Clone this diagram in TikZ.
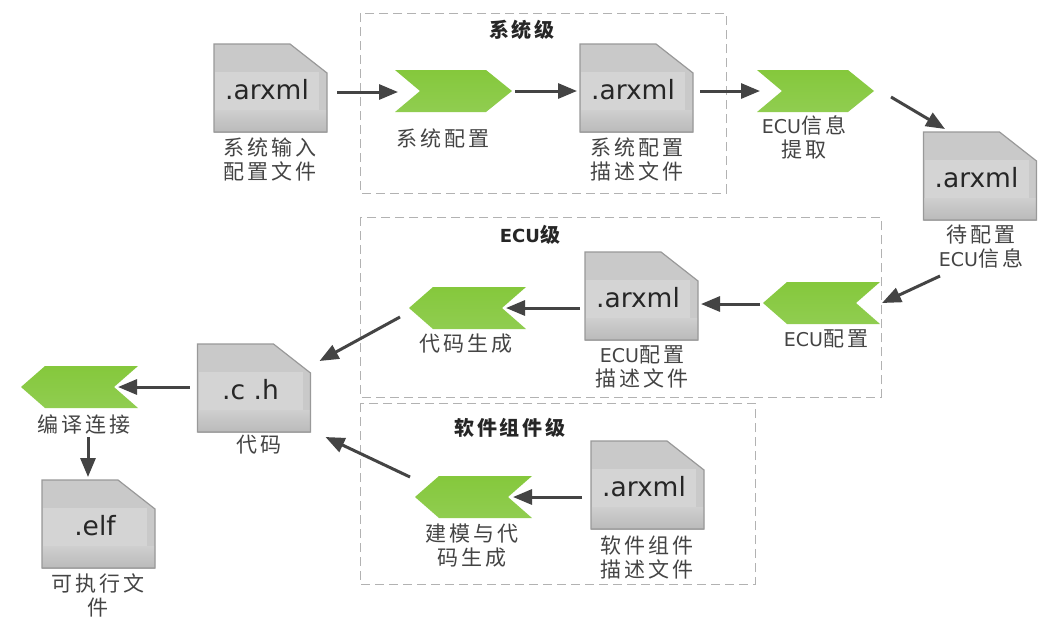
\documentclass[tikz,border=0pt]{standalone}
\usepackage{fontspec}
\setmainfont{Noto Sans CJK SC}[LetterSpace=14]
\newfontfamily\latinf{DejaVu Sans}
\usetikzlibrary{arrows.meta,calc}
\definecolor{txt}{HTML}{444444}
\definecolor{arr}{HTML}{444444}
\newcommand{\ecu}{{\latinf ECU}}
\tikzset{
  every node/.style={inner sep=0pt,outer sep=0pt},
  frame/.style={draw=black!30,line width=1pt,dash pattern=on 9pt off 5pt},
  docframe/.style={minimum width=113pt,minimum height=88pt},
  chevframe/.style={minimum width=117pt,minimum height=42pt},
  docbody/.style={fill=black!21},
  docedge/.style={draw=black!40,line width=1.2pt},
  docband/.style={top color=black!19,bottom color=black!27},
  docinner/.style={fill=black!17},
  docname/.style={font=\latinf\fontsize{26.5}{26.5}\selectfont,text=black!85},
  chev/.style={top color={rgb,255:red,133;green,200;blue,60},bottom color={rgb,255:red,144;green,205;blue,80}},
  lab/.style={font=\fontsize{21}{24}\selectfont,text=txt,align=center},
  ttl/.style={font=\bfseries\fontsize{20}{22}\selectfont,text=black!85,align=center},
  flow/.style={draw=arr,line width=3pt,-{Triangle[length=19pt,width=15pt]}},
}
\newcommand{\docf}[4]{% name, left, top, text
  \path[docbody] (#2,#3) -- ++(76,0) -- ++(37,29) -- ++(0,59) -- ++(-113,0) -- cycle;
  \path[docband] (#2,#3+66) rectangle (#2+113,#3+88);
  \fill[docinner] (#2+1,#3+28) rectangle (#2+105,#3+66);
  \path[docedge] (#2,#3) -- ++(76,0) -- ++(37,29) -- ++(0,59) -- ++(-113,0) -- cycle;
  \node[docframe] (#1) at (#2+56.5,#3+44) {};
  \node[docname] at (#2+53,#3+46) {#4};
}
\newcommand{\chevr}[3]{% name, left, top: points right
  \path[chev] (#2,#3) -- ++(91,0) -- ++(26,21) -- ++(-26,21) -- ++(-91,0) -- ++(25,-21) -- cycle;
  \node[chevframe] (#1) at (#2+58.5,#3+21) {};
}
\newcommand{\chevl}[3]{% name, left, top: points left
  \path[chev] (#2+117,#3) -- ++(-93,0) -- ++(-24,21) -- ++(24,21) -- ++(93,0) -- ++(-24,-21) -- cycle;
  \node[chevframe] (#1) at (#2+58.5,#3+21) {};
}
\begin{document}
\begin{tikzpicture}[x=1pt,y=-1pt]
\useasboundingbox[fill=white] (0,0) rectangle (1048,625);
% level frames
\draw[frame] (360,13) rectangle (726,193);
\draw[frame] (360,217) rectangle (881,397);
\draw[frame] (360,403) rectangle (755,584);
\node[ttl] (t1) at (522,30) {系统级};
\node[ttl] (t2) at (530,235) {\fontsize{18}{22}\selectfont\ecu\fontsize{20}{22}\selectfont 级};
\node[ttl] (t3) at (510,428) {软件组件级};
% files
\docf{doc1}{214}{44}{.arxml}
\docf{doc2}{580}{44}{.arxml}
\docf{doc3}{923.5}{132}{.arxml}
\docf{doc4}{585}{252}{.arxml}
\docf{doc5}{197.5}{344}{.c .h}
\docf{doc6}{42}{480}{.elf}
\docf{doc7}{591}{441}{.arxml}
% steps
\chevr{ch1}{395}{70}
\chevr{ch2}{757}{70}
\chevl{ch3}{763}{282}
\chevl{ch4}{409}{287}
\chevl{ch5}{21}{366}
\chevl{ch6}{415}{476}
% labels
\node[lab] (l1) at (270,159.5) {系统输入\\配置文件};
\node[lab] (l2) at (443,138) {系统配置};
\node[lab] (l3) at (637,159.5) {系统配置\\描述文件};
\node[lab] (l4) at (804,137) {\fontsize{19}{24}\selectfont\ecu\fontsize{21}{24}\selectfont 信息\\提取};
\node[lab] (l5) at (981,247) {待配置\\\fontsize{19}{24}\selectfont\ecu\fontsize{21}{24}\selectfont 信息};
\node[lab] (l6) at (826,339) {\fontsize{19}{24}\selectfont\ecu\fontsize{21}{24}\selectfont 配置};
\node[lab] (l7) at (642,367) {\fontsize{19}{24}\selectfont\ecu\fontsize{21}{24}\selectfont 配置\\描述文件};
\node[lab] (l8) at (466,344) {代码生成};
\node[lab] (l9) at (259,445) {代码};
\node[lab] (l10) at (84,424) {编译连接};
\node[lab] (l11) at (98,595.5) {可执行文\\件};
\node[lab] (l12) at (472,546) {建模与代\\码生成};
\node[lab] (l13) at (647,557) {软件组件\\描述文件};
% connectors
\draw[flow] ([shift={(10,4)}]doc1.east) -- ([shift={(3,1)}]ch1.west);
\draw[flow] ([shift={(3,0)}]ch1.east) -- ([shift={(-3,3)}]doc2.west);
\draw[flow] ([shift={(7,3)}]doc2.east) -- ([shift={(3,0)}]ch2.west);
\draw[flow] ([shift={(17,6)}]ch2.east) -- ([shift={(-35,-3)}]doc3.north);
\draw[flow] ([shift={(-40,56)}]doc3.south) -- ([shift={(2,0)}]ch3.east);
\draw[flow] ([shift={(-3,1)}]ch3.west) -- ([shift={(3,8)}]doc4.east);
\draw[flow] ([shift={(-5,12)}]doc4.west) -- ([shift={(-20,0)}]ch4.east);
\draw[flow] ([shift={(-9,9)}]ch4.west) -- ([shift={(9,-27)}]doc5.east);
\draw[flow] ([shift={(-8,-1)}]doc5.west) -- ([shift={(-20,0)}]ch5.east);
\draw[flow] ([shift={(8.5,29)}]ch5.south) -- ([shift={(-10.5,-3)}]doc6.north);
\draw[flow] ([shift={(-5,-20)}]ch6.west) -- ([shift={(15,49)}]doc5.east);
\draw[flow] ([shift={(-9,12)}]doc7.west) -- ([shift={(-19,0)}]ch6.east);
\end{tikzpicture}
\end{document}
